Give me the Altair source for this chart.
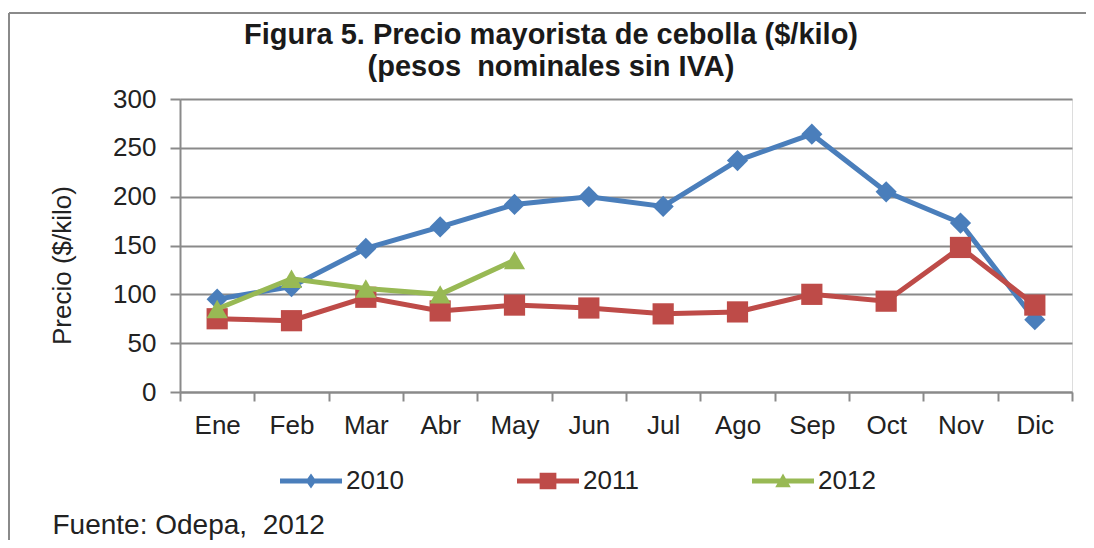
import altair as alt
import pandas as pd

months = ["Ene", "Feb", "Mar", "Abr", "May", "Jun", "Jul", "Ago", "Sep", "Oct", "Nov", "Dic"]
years = ["2010", "2011", "2012"]
v2010 = [95, 108, 147, 169, 192, 200, 190, 237, 264, 205, 173, 74]
v2011 = [75, 73, 97, 83, 89, 86, 80, 82, 100, 93, 148, 89]
v2012 = [85, 116, 106, 100, 135]
y_ticks = [0, 50, 100, 150, 200, 250, 300]

colors = ["#4A7EBB", "#BE4B48", "#98B954"]
point_shapes = ["diamond", "square", "triangle-up"]
legend_paths = [
    "M-1,-0.08L1,-0.08L1,0.08L-1,0.08Z M0,-0.24L0.17,0L0,0.24L-0.17,0Z",
    "M-1,-0.08L1,-0.08L1,0.08L-1,0.08Z M-0.27,-0.27L0.27,-0.27L0.27,0.27L-0.27,0.27Z",
    "M-1,-0.08L1,-0.08L1,0.08L-1,0.08Z M0,-0.24L0.25,0.2L-0.25,0.2Z",
]

rows = []
for yr, vals in zip(years, [v2010, v2011, v2012]):
    for m, v in zip(months, vals):
        rows.append({"mes": m, "anio": yr, "precio": v})
df = pd.DataFrame(rows)

FONT = "Liberation Sans"
GRAY = "#8a8a8a"
TXT = "#222222"

x_enc = alt.X(
    "mes:N",
    sort=months,
    scale=alt.Scale(type="band", domain=months, paddingInner=0, paddingOuter=0),
    axis=alt.Axis(
        title="Fuente:\u00a0Odepa,\u00a0\u00a02012",
        titleX=-128, titleY=141, titleAlign="left", titleBaseline="alphabetic",
        titleFontWeight="normal", titleFontSize=28, titleFont=FONT, titleColor=TXT,
        labelAngle=0, labelFontSize=26, labelFont=FONT, labelColor=TXT, labelPadding=11,
        tickSize=9, tickBand="extent", tickColor=GRAY, tickWidth=2,
        domainColor=GRAY, domainWidth=2, grid=False,
    ),
)
y_enc = alt.Y(
    "precio:Q",
    scale=alt.Scale(domain=[0, 300], nice=False, zero=True),
    axis=alt.Axis(
        values=y_ticks,
        title="Precio ($/kilo)",
        titleX=-118, titleY=166, titleAngle=270, titleAlign="center", titleBaseline="middle",
        titleFontWeight="normal", titleFontSize=26, titleFont=FONT, titleColor=TXT,
        labelFontSize=26, labelFont=FONT, labelColor=TXT, labelPadding=14,
        tickSize=10, tickColor=GRAY, tickWidth=2,
        domainColor=GRAY, domainWidth=2,
        grid=True, gridColor=GRAY, gridWidth=2,
    ),
)

layers = []
for yr, c, s in zip(years, colors, point_shapes):
    base = alt.Chart(df).transform_filter(alt.datum.anio == yr)
    layers.append(base.mark_line(color=c, strokeWidth=5).encode(x=x_enc, y=y_enc))
    layers.append(
        base.mark_point(shape=s, filled=True, color=c, size=450, opacity=1).encode(x=x_enc, y=y_enc)
    )

leg = alt.Legend(
    orient="none", legendX=100, legendY=351, direction="horizontal", title=None,
    symbolSize=3844, symbolStrokeWidth=0, symbolOpacity=1,
    labelFontSize=26, labelFont=FONT, labelColor=TXT, labelOffset=4, columnPadding=113,
)
legend_layer = (
    alt.Chart(df)
    .transform_filter("false")
    .mark_point(filled=True, opacity=1)
    .encode(
        x=x_enc,
        y=y_enc,
        color=alt.Color("anio:N", scale=alt.Scale(domain=years, range=colors), legend=leg),
        shape=alt.Shape("anio:N", scale=alt.Scale(domain=years, range=legend_paths), legend=leg),
    )
)

frame_left = alt.Chart(df).mark_rule(color=GRAY, strokeWidth=2).encode(
    x=alt.value(-171), y=alt.value(-86), y2=alt.value(460)
)
frame_top = alt.Chart(df).mark_rule(color=GRAY, strokeWidth=2).encode(
    x=alt.value(-171), x2=alt.value(940), y=alt.value(-86)
)

chart = (
    alt.layer(frame_left, frame_top, *layers, legend_layer)
    .properties(
        width=892,
        height=293,
        autosize=alt.AutoSizeParams(type="none"),
        padding={"left": 172, "top": 91, "right": 14, "bottom": 148},
        title=alt.TitleParams(
            ["Figura 5. Precio mayorista de cebolla ($/kilo)", "(pesos\u00a0\u00a0nominales sin IVA)"],
            anchor="middle", frame="group", dx=-75, dy=80, offset=10,
            font=FONT, fontSize=29, fontWeight="bold",
            lineHeight=32, color="#1a1a1a",
        ),
    )
    .configure_view(stroke=None)
    .configure(background="white")
)

chart.save("out.html", embed_options={"renderer": "svg", "actions": False})
